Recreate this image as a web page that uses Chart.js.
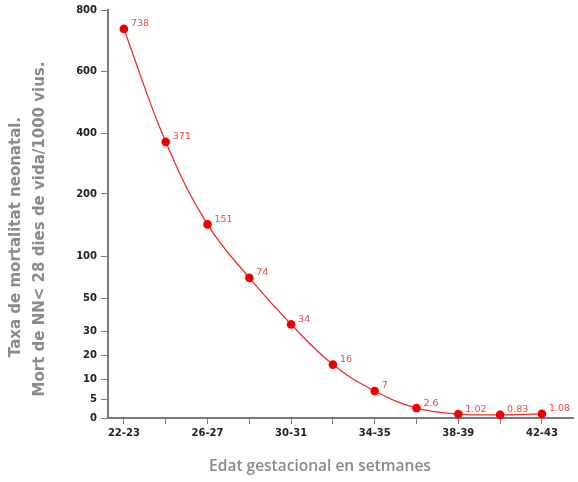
<!DOCTYPE html>
<html>
<head>
<meta charset="utf-8">
<script src="https://cdn.jsdelivr.net/npm/chart.js@4/dist/chart.umd.min.js"></script>
<style>
    html, body { margin: 0; padding: 0; background: #fff; }
</style>
</head>
<body>
<canvas id="mortalityChart" width="578" height="482"></canvas>
<script>

// weeks of gestation
const categories = ["22-23", "24-25", "26-27", "28-29", "30-31", "32-33",
    "34-35", "36-37", "38-39", "40-41", "42-43"];

// neonatal deaths per 1000 live births
const mortality = [738, 371, 151, 74, 34, 16, 7, 2.6, 1.02, 0.83, 1.08];

const yTicks = [0, 5, 10, 20, 30, 50, 100, 200, 400, 600, 800];

// share of the axis height given to each tick (the axis is not linear)
const yTickSpan = [0, 19, 39, 63, 87, 120, 162, 224, 285, 347, 408];

const xTitle = "Edat gestacional en setmanes";
const yTitle = ["Taxa de mortalitat neonatal.", "Mort de NN< 28 dies de vida/1000 vius."];

class BrokenScale extends Chart.LinearScale {

    static id = "broken";

    determineDataLimits(){
        this.min = 0;
        this.max = 1;
    }

    buildTicks(){
        return yTicks.map(v => ({ value: v }));
    }

    toDecimal(v){
        const top = yTickSpan[yTickSpan.length - 1];
        for (let i = 1; i < yTicks.length; i++) {
            if (v <= yTicks[i]) {
                const f = (v - yTicks[i - 1]) / (yTicks[i] - yTicks[i - 1]);
                return (yTickSpan[i - 1] + f * (yTickSpan[i] - yTickSpan[i - 1])) / top;
            }
        }
        return 1;
    }

    getPixelForValue(v){
        return v === null ? NaN : this.getPixelForDecimal(this.toDecimal(v));
    }

    getValueForPixel(p){
        const top = yTickSpan[yTickSpan.length - 1];
        const d = this.getDecimalForPixel(p) * top;
        for (let i = 1; i < yTickSpan.length; i++) {
            if (d <= yTickSpan[i]) {
                const f = (d - yTickSpan[i - 1]) / (yTickSpan[i] - yTickSpan[i - 1]);
                return yTicks[i - 1] + f * (yTicks[i] - yTicks[i - 1]);
            }
        }
        return yTicks[yTicks.length - 1];
    }
}

Chart.register(BrokenScale);

// value labels next to the points + both axis titles (they sit off centre)
const extraText = {
    id: "extraText",
    afterDatasetsDraw(chart){
        const ctx = chart.ctx;
        const meta = chart.getDatasetMeta(0);
        ctx.save();
        ctx.font = "9.5px 'DejaVu Sans'";
        ctx.fillStyle = "#ef4646";
        ctx.textAlign = "left";
        ctx.textBaseline = "middle";
        meta.data.forEach((pt, i) => {
            ctx.fillText(String(mortality[i]), pt.x + 7, pt.y - 5);
        });

        ctx.font = "600 15.5px 'Open Sans'";
        ctx.fillStyle = "#8a8a8a";
        ctx.textAlign = "center";
        ctx.fillText(xTitle, 320, 467);

        ctx.font = "bold 15px 'DejaVu Sans'";
        ctx.rotate(-Math.PI / 2);
        ctx.fillText(yTitle[0], -237, 16);
        ctx.fillText(yTitle[1], -229, 40);
        ctx.restore();
    }
};

const tickFont = { family: "'DejaVu Sans'", size: 10, weight: "bold" };

new Chart(document.getElementById("mortalityChart"), {

    type: "line",

    data: {
        datasets: [{
            data: mortality.map((v, i) => ({ x: i, y: v })),
            borderColor: "#ee2a2a",
            borderWidth: 1.3,
            backgroundColor: "#ee0000",
            pointRadius: 4.3,
            pointBorderWidth: 0,
            tension: 0.4
        }]
    },

    options: {
        responsive: false,
        animation: false,
        layout: { padding: { top: 10, right: 0, left: 0, bottom: 0 } },
        plugins: {
            legend: { display: false },
            tooltip: { enabled: false }
        },
        scales: {
            x: {
                type: "linear",
                min: -0.38,
                max: 10.76,
                afterFit: s => { s.height = 64; },
                border: { color: "#7a7a7a", width: 2 },
                grid: { drawOnChartArea: false, tickLength: 6, tickColor: "#7a7a7a" },
                ticks: {
                    stepSize: 1,
                    includeBounds: false,
                    autoSkip: false,
                    maxRotation: 0,
                    color: "#222",
                    font: tickFont,
                    padding: 3,
                    callback: v => (Number.isInteger(v) && v % 2 === 0) ? categories[v] : ""
                }
            },
            y: {
                type: "broken",
                afterFit: s => { s.width = 108; },
                border: { color: "#7a7a7a", width: 2 },
                grid: { drawOnChartArea: false, tickLength: 7, tickColor: "#7a7a7a" },
                ticks: {
                    autoSkip: false,
                    color: "#222",
                    font: tickFont,
                    padding: 4,
                    callback: v => String(v)
                }
            }
        }
    },

    plugins: [extraText]
});

</script>
</body>
</html>
